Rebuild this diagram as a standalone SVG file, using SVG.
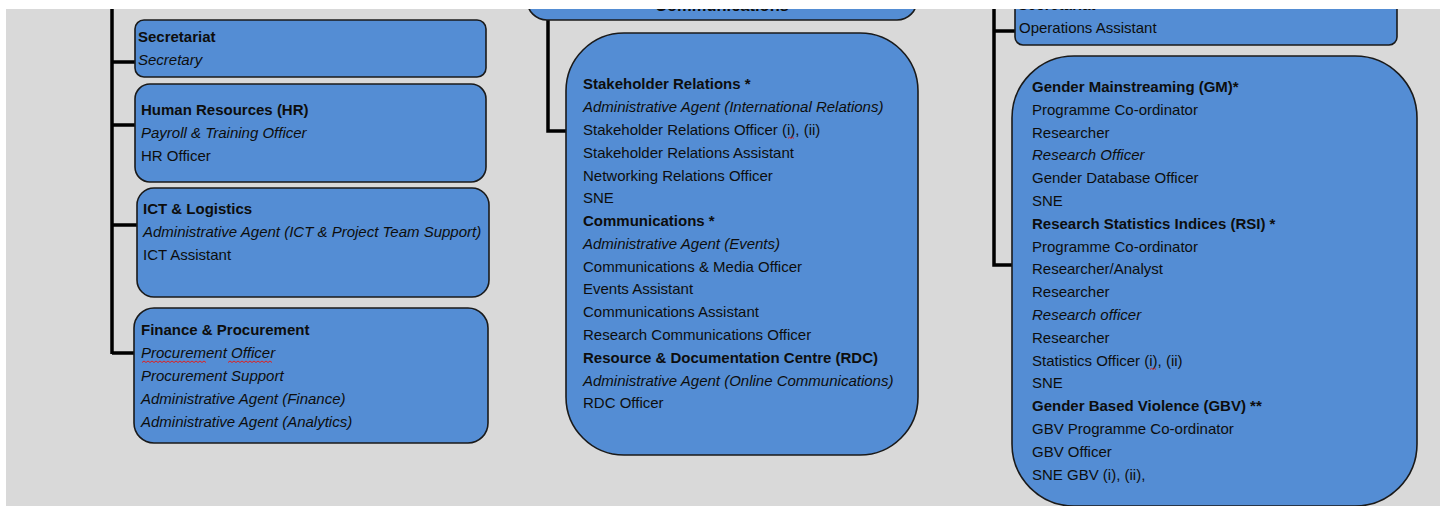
<svg xmlns="http://www.w3.org/2000/svg" width="1447" height="506" viewBox="0 0 1447 506">
<style>
.box{fill:#548dd4;stroke:#1a1a1a;stroke-width:1.6}
.t{font-family:"Liberation Sans",Arial,sans-serif;font-size:15px;fill:#0d0d0d}
.b{font-weight:bold}
.i{font-style:italic}
.con{stroke:#000;stroke-width:3.5;fill:none}
.sq{stroke:#e02020;stroke-width:1;fill:none}
</style>
<rect x="0" y="0" width="1447" height="506" fill="#d9d9d9"/>

<g id="connectors">
<path class="con" d="M112 0V354M112 62H135M112 125H135M112 225H137M112 353H134"/>
<path class="con" d="M548 20V131H566"/>
<path class="con" d="M994 0V265H1012M994 31H1015"/>
</g>

<g id="secretariat-left">
<rect class="box" x="135" y="20" width="351" height="57" rx="9"/>
<text class="t b" x="138" y="42">Secretariat</text>
<text class="t i" x="138" y="65">Secretary</text>
</g>

<g id="hr">
<rect class="box" x="135" y="84" width="351" height="98" rx="15"/>
<text class="t b" x="141" y="115">Human Resources (HR)</text>
<text class="t i" x="141" y="138">Payroll &amp; Training Officer</text>
<text class="t" x="141" y="161">HR Officer</text>
</g>

<g id="ict">
<rect class="box" x="137" y="188" width="352" height="109" rx="17"/>
<text class="t b" x="143" y="213.5">ICT &amp; Logistics</text>
<text class="t i" x="143" y="237">Administrative Agent (ICT &amp; Project Team Support)</text>
<text class="t" x="143" y="260">ICT Assistant</text>
</g>

<g id="finance">
<rect class="box" x="134" y="308" width="354" height="135" rx="20"/>
<text class="t b" x="141" y="334.5">Finance &amp; Procurement</text>
<text class="t i" x="141" y="358">Procurement Officer</text>
<text class="t i" x="141" y="381">Procurement Support</text>
<text class="t i" x="141" y="403.5">Administrative Agent (Finance)</text>
<text class="t i" x="141" y="426.5">Administrative Agent (Analytics)</text>
<path class="sq" d="M142 362.5l2 -1.5l2 1.5l2 -1.5l2 1.5l2 -1.5l2 1.5l2 -1.5l2 1.5l2 -1.5l2 1.5l2 -1.5l2 1.5l2 -1.5l2 1.5l2 -1.5l2 1.5l2 -1.5l2 1.5l2 -1.5l2 1.5l2 -1.5l2 1.5l2 -1.5l2 1.5l2 -1.5l2 1.5l2 -1.5l2 1.5l2 -1.5l2 1.5l2 -1.5l2 1.5"/>
<path class="sq" d="M228 362.5l2 -1.5l2 1.5l2 -1.5l2 1.5l2 -1.5l2 1.5l2 -1.5l2 1.5l2 -1.5l2 1.5l2 -1.5l2 1.5l2 -1.5l2 1.5l2 -1.5l2 1.5l2 -1.5l2 1.5l2 -1.5l2 1.5l2 -1.5l2 1.5"/>
</g>

<g id="communications-top">
<rect class="box" x="527" y="-40" width="390" height="60" rx="20"/>
<text class="t b" x="722" y="11" text-anchor="middle" style="font-size:16.5px">Communications</text>
</g>

<g id="communications-units">
<rect class="box" x="566" y="33" width="352" height="422" rx="58"/>
<text class="t b" x="583" y="89">Stakeholder Relations *</text>
<text class="t i" x="583" y="112">Administrative Agent (International Relations)</text>
<text class="t" x="583" y="134.5">Stakeholder Relations Officer (i), (ii)</text>
<text class="t" x="583" y="157.5">Stakeholder Relations Assistant</text>
<text class="t" x="583" y="180.5">Networking Relations Officer</text>
<text class="t" x="583" y="203">SNE</text>
<text class="t b" x="583" y="225.5">Communications *</text>
<text class="t i" x="583" y="248.5">Administrative Agent (Events)</text>
<text class="t" x="583" y="271.5">Communications &amp; Media Officer</text>
<text class="t" x="583" y="294">Events Assistant</text>
<text class="t" x="583" y="316.5">Communications Assistant</text>
<text class="t" x="583" y="339.5">Research Communications Officer</text>
<text class="t b" x="583" y="362.5">Resource &amp; Documentation Centre (RDC)</text>
<text class="t i" x="583" y="385.5">Administrative Agent (Online Communications)</text>
<text class="t" x="583" y="408">RDC Officer</text>
<path class="sq" d="M788 138.5l1.5 -1.2l1.5 1.2l1.5 -1.2l1.5 1.2"/>
</g>

<g id="secretariat-right">
<rect class="box" x="1015" y="-30" width="382" height="75" rx="8"/>
<text class="t b" x="1018" y="10">Secretariat</text>
<text class="t" x="1019" y="33">Operations Assistant</text>
</g>

<g id="research-units">
<rect class="box" x="1012" y="56" width="405" height="450" rx="62"/>
<text class="t b" x="1032" y="91.5">Gender Mainstreaming (GM)*</text>
<text class="t" x="1032" y="114.5">Programme Co-ordinator</text>
<text class="t" x="1032" y="137.5">Researcher</text>
<text class="t i" x="1032" y="160">Research Officer</text>
<text class="t" x="1032" y="183">Gender Database Officer</text>
<text class="t" x="1032" y="205.5">SNE</text>
<text class="t b" x="1032" y="228.5">Research Statistics Indices (RSI) *</text>
<text class="t" x="1032" y="251.5">Programme Co-ordinator</text>
<text class="t" x="1032" y="274">Researcher/Analyst</text>
<text class="t" x="1032" y="297">Researcher</text>
<text class="t i" x="1032" y="319.5">Research officer</text>
<text class="t" x="1032" y="342.5">Researcher</text>
<text class="t" x="1032" y="365.5">Statistics Officer (i), (ii)</text>
<text class="t" x="1032" y="388">SNE</text>
<text class="t b" x="1032" y="410.5">Gender Based Violence (GBV) **</text>
<text class="t" x="1032" y="433.5">GBV Programme Co-ordinator</text>
<text class="t" x="1032" y="456.5">GBV Officer</text>
<text class="t" x="1032" y="479.5">SNE GBV (i), (ii),</text>
<path class="sq" d="M1150 369.5l1.5 -1.2l1.5 1.2l1.5 -1.2l1.5 1.2"/>
</g>

<rect x="0" y="0" width="1447" height="9" fill="#ffffff"/>
<rect x="0" y="0" width="6" height="506" fill="#ffffff"/>
<rect x="1440" y="0" width="7" height="506" fill="#ffffff"/>
</svg>
